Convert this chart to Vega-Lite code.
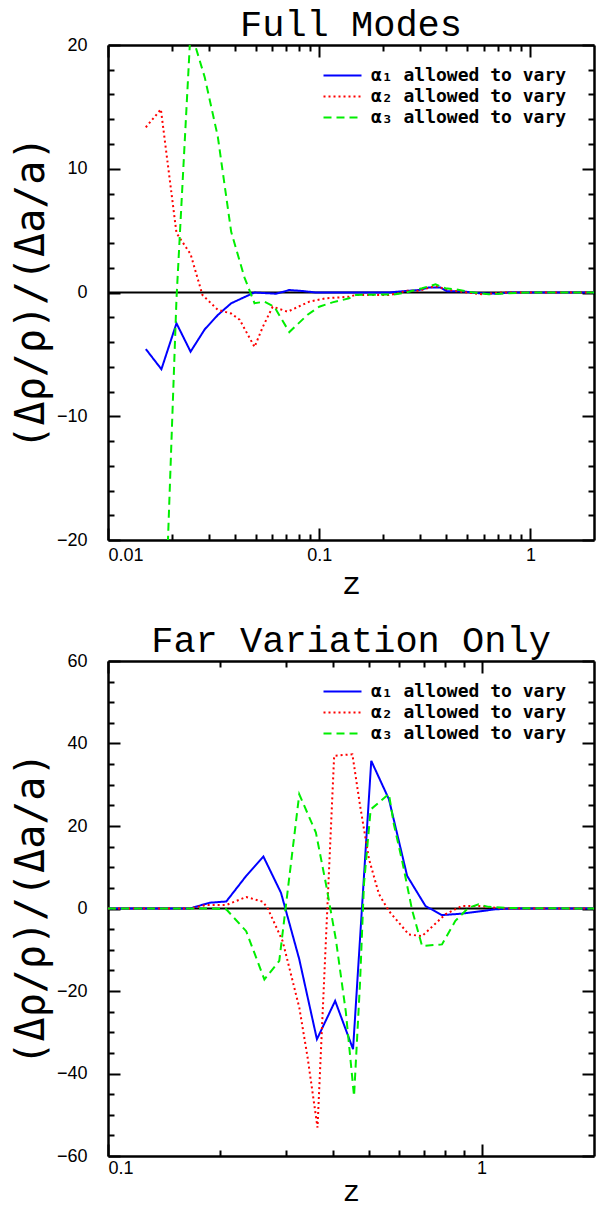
{
  "$schema": "https://vega.github.io/schema/vega-lite/v6.json",
  "background": "white",
  "padding": {"left": 11, "top": 6, "right": 4, "bottom": 0},
  "spacing": 23,
  "config": {
    "view": {"stroke": null},
    "axis": {"grid": false, "domainColor": "black", "domainWidth": 2.5, "tickColor": "black", "tickWidth": 2, "labelFont": "Liberation Sans", "labelFontSize": 18, "labelColor": "black", "titleColor": "black"},
    "legend": {"orient": "none", "legendX": 224, "legendY": 20, "symbolType": "M-2,0H2", "symbolSize": 361, "symbolStrokeWidth": 2, "labelFont": "DejaVu Sans Mono", "labelFontSize": 18, "labelFontWeight": "bold", "labelColor": "black", "labelLimit": 0, "rowPadding": 1, "labelOffset": 18, "padding": 0},
    "title": {"font": "Liberation Mono", "fontSize": 37, "fontWeight": "normal", "color": "black", "offset": -8}
  },
  "datasets": {
    "top": [
      {"s": "α₁ allowed to vary", "z": 0.0151, "v": -4.57},
      {"s": "α₁ allowed to vary", "z": 0.0179, "v": -6.2},
      {"s": "α₁ allowed to vary", "z": 0.0211, "v": -2.49},
      {"s": "α₁ allowed to vary", "z": 0.0246, "v": -4.78},
      {"s": "α₁ allowed to vary", "z": 0.0287, "v": -2.98},
      {"s": "α₁ allowed to vary", "z": 0.0331, "v": -1.82},
      {"s": "α₁ allowed to vary", "z": 0.0383, "v": -0.87},
      {"s": "α₁ allowed to vary", "z": 0.0494, "v": 0.0},
      {"s": "α₁ allowed to vary", "z": 0.0625, "v": -0.1},
      {"s": "α₁ allowed to vary", "z": 0.0722, "v": 0.2},
      {"s": "α₁ allowed to vary", "z": 0.0834, "v": 0.12},
      {"s": "α₁ allowed to vary", "z": 0.0965, "v": 0.0},
      {"s": "α₁ allowed to vary", "z": 0.2139, "v": 0.0},
      {"s": "α₁ allowed to vary", "z": 0.2471, "v": 0.1},
      {"s": "α₁ allowed to vary", "z": 0.2963, "v": 0.2},
      {"s": "α₁ allowed to vary", "z": 0.3303, "v": 0.4},
      {"s": "α₁ allowed to vary", "z": 0.3751, "v": 0.4},
      {"s": "α₁ allowed to vary", "z": 0.403, "v": 0.1},
      {"s": "α₁ allowed to vary", "z": 0.4741, "v": 0.1},
      {"s": "α₁ allowed to vary", "z": 0.5685, "v": -0.06},
      {"s": "α₁ allowed to vary", "z": 0.7066, "v": -0.1},
      {"s": "α₁ allowed to vary", "z": 0.7875, "v": 0.0},
      {"s": "α₁ allowed to vary", "z": 2.0, "v": 0.0},
      {"s": "α₂ allowed to vary", "z": 0.0151, "v": 13.35},
      {"s": "α₂ allowed to vary", "z": 0.0178, "v": 14.8},
      {"s": "α₂ allowed to vary", "z": 0.0211, "v": 4.8},
      {"s": "α₂ allowed to vary", "z": 0.0246, "v": 3.1},
      {"s": "α₂ allowed to vary", "z": 0.028, "v": -0.2},
      {"s": "α₂ allowed to vary", "z": 0.0331, "v": -1.4},
      {"s": "α₂ allowed to vary", "z": 0.0383, "v": -1.7},
      {"s": "α₂ allowed to vary", "z": 0.042, "v": -2.2},
      {"s": "α₂ allowed to vary", "z": 0.0494, "v": -4.4},
      {"s": "α₂ allowed to vary", "z": 0.054, "v": -2.8},
      {"s": "α₂ allowed to vary", "z": 0.0602, "v": -1.15},
      {"s": "α₂ allowed to vary", "z": 0.0709, "v": -1.55},
      {"s": "α₂ allowed to vary", "z": 0.0897, "v": -0.74},
      {"s": "α₂ allowed to vary", "z": 0.1075, "v": -0.47},
      {"s": "α₂ allowed to vary", "z": 0.1385, "v": -0.34},
      {"s": "α₂ allowed to vary", "z": 0.149, "v": -0.2},
      {"s": "α₂ allowed to vary", "z": 0.2139, "v": -0.2},
      {"s": "α₂ allowed to vary", "z": 0.2385, "v": -0.06},
      {"s": "α₂ allowed to vary", "z": 0.2564, "v": 0.15},
      {"s": "α₂ allowed to vary", "z": 0.2963, "v": 0.15},
      {"s": "α₂ allowed to vary", "z": 0.3553, "v": 0.52},
      {"s": "α₂ allowed to vary", "z": 0.4105, "v": 0.2},
      {"s": "α₂ allowed to vary", "z": 0.4741, "v": 0.06},
      {"s": "α₂ allowed to vary", "z": 0.5893, "v": -0.15},
      {"s": "α₂ allowed to vary", "z": 0.7322, "v": 0.0},
      {"s": "α₂ allowed to vary", "z": 2.0, "v": 0.0},
      {"s": "α₃ allowed to vary", "z": 0.0179, "v": -35},
      {"s": "α₃ allowed to vary", "z": 0.0211, "v": -0.5},
      {"s": "α₃ allowed to vary", "z": 0.0246, "v": 21.2},
      {"s": "α₃ allowed to vary", "z": 0.0287, "v": 17.4},
      {"s": "α₃ allowed to vary", "z": 0.0331, "v": 12.6},
      {"s": "α₃ allowed to vary", "z": 0.0383, "v": 4.9},
      {"s": "α₃ allowed to vary", "z": 0.0443, "v": 1.2},
      {"s": "α₃ allowed to vary", "z": 0.0494, "v": -0.87},
      {"s": "α₃ allowed to vary", "z": 0.055, "v": -0.74},
      {"s": "α₃ allowed to vary", "z": 0.0613, "v": -1.15},
      {"s": "α₃ allowed to vary", "z": 0.0722, "v": -3.2},
      {"s": "α₃ allowed to vary", "z": 0.0881, "v": -1.8},
      {"s": "α₃ allowed to vary", "z": 0.1, "v": -1.15},
      {"s": "α₃ allowed to vary", "z": 0.1155, "v": -0.8},
      {"s": "α₃ allowed to vary", "z": 0.1385, "v": -0.47},
      {"s": "α₃ allowed to vary", "z": 0.149, "v": -0.2},
      {"s": "α₃ allowed to vary", "z": 0.23, "v": -0.15},
      {"s": "α₃ allowed to vary", "z": 0.2657, "v": 0.06},
      {"s": "α₃ allowed to vary", "z": 0.3071, "v": 0.34},
      {"s": "α₃ allowed to vary", "z": 0.3553, "v": 0.66},
      {"s": "α₃ allowed to vary", "z": 0.396, "v": 0.34},
      {"s": "α₃ allowed to vary", "z": 0.4414, "v": 0.26},
      {"s": "α₃ allowed to vary", "z": 0.5099, "v": 0.06},
      {"s": "α₃ allowed to vary", "z": 0.6339, "v": -0.15},
      {"s": "α₃ allowed to vary", "z": 0.7875, "v": -0.06},
      {"s": "α₃ allowed to vary", "z": 1.0, "v": 0.0},
      {"s": "α₃ allowed to vary", "z": 2.0, "v": 0.0}
    ],
    "bottom": [
      {"s": "α₁ allowed to vary", "z": 0.1, "v": 0},
      {"s": "α₁ allowed to vary", "z": 0.1655, "v": 0},
      {"s": "α₁ allowed to vary", "z": 0.1871, "v": 1.4},
      {"s": "α₁ allowed to vary", "z": 0.2073, "v": 1.7},
      {"s": "α₁ allowed to vary", "z": 0.2344, "v": 7.9},
      {"s": "α₁ allowed to vary", "z": 0.2606, "v": 12.6},
      {"s": "α₁ allowed to vary", "z": 0.2905, "v": 3.8},
      {"s": "α₁ allowed to vary", "z": 0.3251, "v": -12.3},
      {"s": "α₁ allowed to vary", "z": 0.3625, "v": -31.7},
      {"s": "α₁ allowed to vary", "z": 0.4056, "v": -22.4},
      {"s": "α₁ allowed to vary", "z": 0.4529, "v": -34.1},
      {"s": "α₁ allowed to vary", "z": 0.5067, "v": 35.8},
      {"s": "α₁ allowed to vary", "z": 0.5649, "v": 26.5},
      {"s": "α₁ allowed to vary", "z": 0.6322, "v": 7.9},
      {"s": "α₁ allowed to vary", "z": 0.7078, "v": 0.6},
      {"s": "α₁ allowed to vary", "z": 0.7836, "v": -1.6},
      {"s": "α₁ allowed to vary", "z": 0.886, "v": -1.25},
      {"s": "α₁ allowed to vary", "z": 1.088, "v": -0.2},
      {"s": "α₁ allowed to vary", "z": 1.2, "v": 0},
      {"s": "α₁ allowed to vary", "z": 2.0, "v": 0},
      {"s": "α₂ allowed to vary", "z": 0.1, "v": 0},
      {"s": "α₂ allowed to vary", "z": 0.1655, "v": 0},
      {"s": "α₂ allowed to vary", "z": 0.1833, "v": 0.85},
      {"s": "α₂ allowed to vary", "z": 0.2073, "v": 0.85},
      {"s": "α₂ allowed to vary", "z": 0.2344, "v": 2.8},
      {"s": "α₂ allowed to vary", "z": 0.2595, "v": 1.65},
      {"s": "α₂ allowed to vary", "z": 0.2671, "v": 0.2},
      {"s": "α₂ allowed to vary", "z": 0.2934, "v": -7.9},
      {"s": "α₂ allowed to vary", "z": 0.3251, "v": -24},
      {"s": "α₂ allowed to vary", "z": 0.3421, "v": -36},
      {"s": "α₂ allowed to vary", "z": 0.3638, "v": -53.1},
      {"s": "α₂ allowed to vary", "z": 0.4031, "v": 37},
      {"s": "α₂ allowed to vary", "z": 0.451, "v": 37.4},
      {"s": "α₂ allowed to vary", "z": 0.4728, "v": 25},
      {"s": "α₂ allowed to vary", "z": 0.4996, "v": 12},
      {"s": "α₂ allowed to vary", "z": 0.5312, "v": 3.5},
      {"s": "α₂ allowed to vary", "z": 0.5649, "v": -0.6},
      {"s": "α₂ allowed to vary", "z": 0.6388, "v": -6.3},
      {"s": "α₂ allowed to vary", "z": 0.6931, "v": -6.7},
      {"s": "α₂ allowed to vary", "z": 0.8002, "v": -1.4},
      {"s": "α₂ allowed to vary", "z": 0.886, "v": 0.6},
      {"s": "α₂ allowed to vary", "z": 0.9817, "v": 0.6},
      {"s": "α₂ allowed to vary", "z": 1.133, "v": 0},
      {"s": "α₂ allowed to vary", "z": 2.0, "v": 0},
      {"s": "α₃ allowed to vary", "z": 0.1, "v": 0},
      {"s": "α₃ allowed to vary", "z": 0.1909, "v": 0},
      {"s": "α₃ allowed to vary", "z": 0.2073, "v": -0.2},
      {"s": "α₃ allowed to vary", "z": 0.2344, "v": -5.5},
      {"s": "α₃ allowed to vary", "z": 0.2622, "v": -17.2},
      {"s": "α₃ allowed to vary", "z": 0.2874, "v": -12.7},
      {"s": "α₃ allowed to vary", "z": 0.3251, "v": 27.7},
      {"s": "α₃ allowed to vary", "z": 0.3602, "v": 18.4},
      {"s": "α₃ allowed to vary", "z": 0.3831, "v": 6.0},
      {"s": "α₃ allowed to vary", "z": 0.4074, "v": -7.5},
      {"s": "α₃ allowed to vary", "z": 0.4331, "v": -25},
      {"s": "α₃ allowed to vary", "z": 0.4557, "v": -45.5},
      {"s": "α₃ allowed to vary", "z": 0.4728, "v": -18},
      {"s": "α₃ allowed to vary", "z": 0.4845, "v": 6},
      {"s": "α₃ allowed to vary", "z": 0.5048, "v": 24},
      {"s": "α₃ allowed to vary", "z": 0.5649, "v": 27.8},
      {"s": "α₃ allowed to vary", "z": 0.5825, "v": 20.4},
      {"s": "α₃ allowed to vary", "z": 0.6131, "v": 11.5},
      {"s": "α₃ allowed to vary", "z": 0.6519, "v": -0.4},
      {"s": "α₃ allowed to vary", "z": 0.6931, "v": -9.1},
      {"s": "α₃ allowed to vary", "z": 0.7836, "v": -8.7},
      {"s": "α₃ allowed to vary", "z": 0.8509, "v": -3},
      {"s": "α₃ allowed to vary", "z": 0.9234, "v": 0.2},
      {"s": "α₃ allowed to vary", "z": 0.9817, "v": 1.0},
      {"s": "α₃ allowed to vary", "z": 1.044, "v": 0.4},
      {"s": "α₃ allowed to vary", "z": 1.2, "v": 0.1},
      {"s": "α₃ allowed to vary", "z": 2.0, "v": 0}
    ]
  },
  "resolve": {"scale": {"color": "independent", "strokeDash": "independent"}, "legend": {"color": "independent", "strokeDash": "independent"}},
  "vconcat": [
    {
      "width": 486,
      "height": 495,
      "title": {"text": "Full Modes"},
      "resolve": {"axis": {"x": "independent", "y": "independent"}},
      "layer": [
        {
          "data": {"values": [{}]},
          "mark": {"type": "rule", "color": "black", "strokeWidth": 2},
          "encoding": {
            "x": {"datum": 0.01, "type": "quantitative", "scale": {"type": "log", "domain": [0.01, 2]},
              "axis": {"orient": "top", "values": [0.01,0.02,0.03,0.04,0.05,0.06,0.07,0.08,0.09,0.1,0.2,0.3,0.4,0.5,0.6,0.7,0.8,0.9,1], "labels": false, "title": null,
                "tickSize": {"condition": {"test": "datum.value == 0.01 || datum.value == 0.1 || datum.value == 1", "value": -12}, "value": -6}}},
            "x2": {"datum": 2},
            "y": {"datum": 0, "type": "quantitative", "scale": {"domain": [-20, 20]},
              "axis": {"orient": "right", "values": [-20,-18,-16,-14,-12,-10,-8,-6,-4,-2,0,2,4,6,8,10,12,14,16,18,20], "labels": false, "title": null,
                "tickSize": {"condition": {"test": "datum.value % 10 == 0", "value": -12}, "value": -6}}}
          }
        },
        {
          "data": {"name": "top"},
          "mark": {"type": "line", "clip": true, "strokeWidth": 2},
          "encoding": {
            "x": {"field": "z", "type": "quantitative", "scale": {"type": "log", "domain": [0.01, 2]},
              "axis": {"orient": "bottom", "values": [0.01,0.02,0.03,0.04,0.05,0.06,0.07,0.08,0.09,0.1,0.2,0.3,0.4,0.5,0.6,0.7,0.8,0.9,1],
                "labelExpr": "(datum.value == 0.01 || datum.value == 0.1 || datum.value == 1) ? format(datum.value, '~g') : ''",
                "tickSize": {"condition": {"test": "datum.value == 0.01 || datum.value == 0.1 || datum.value == 1", "value": -12}, "value": -6},
                "labelPadding": 18, "title": "z", "titleFont": "Liberation Mono", "titleFontSize": 32, "titleFontWeight": "normal", "titlePadding": 4}},
            "y": {"field": "v", "type": "quantitative", "scale": {"domain": [-20, 20]},
              "axis": {"orient": "left", "values": [-20,-18,-16,-14,-12,-10,-8,-6,-4,-2,0,2,4,6,8,10,12,14,16,18,20],
                "labelExpr": "datum.value % 10 == 0 ? datum.label : ''",
                "tickSize": {"condition": {"test": "datum.value % 10 == 0", "value": -12}, "value": -6},
                "labelPadding": 33, "title": "(Δρ/ρ)/(Δa/a)", "titleFont": "DejaVu Sans Mono", "titleFontSize": 40, "titleFontWeight": "normal", "titlePadding": 5}},
            "color": {"field": "s", "type": "nominal", "scale": {"domain": ["α₁ allowed to vary", "α₂ allowed to vary", "α₃ allowed to vary"], "range": ["#0000ff", "#ff0000", "#00ee00"]}, "legend": {"title": null}},
            "strokeDash": {"field": "s", "type": "nominal", "scale": {"domain": ["α₁ allowed to vary", "α₂ allowed to vary", "α₃ allowed to vary"], "range": [[1, 0], [2, 3], [8, 5]]}, "legend": {"title": null}}
          }
        }
      ]
    },
    {
      "width": 486,
      "height": 495,
      "title": {"text": "Far Variation Only"},
      "resolve": {"axis": {"x": "independent", "y": "independent"}},
      "layer": [
        {
          "data": {"values": [{}]},
          "mark": {"type": "rule", "color": "black", "strokeWidth": 2},
          "encoding": {
            "x": {"datum": 0.1, "type": "quantitative", "scale": {"type": "log", "domain": [0.1, 2]},
              "axis": {"orient": "top", "values": [0.1,0.2,0.3,0.4,0.5,0.6,0.7,0.8,0.9,1], "labels": false, "title": null,
                "tickSize": {"condition": {"test": "datum.value == 0.1 || datum.value == 1", "value": -12}, "value": -6}}},
            "x2": {"datum": 2},
            "y": {"datum": 0, "type": "quantitative", "scale": {"domain": [-60, 60]},
              "axis": {"orient": "right", "values": [-60,-55,-50,-45,-40,-35,-30,-25,-20,-15,-10,-5,0,5,10,15,20,25,30,35,40,45,50,55,60], "labels": false, "title": null,
                "tickSize": {"condition": {"test": "datum.value % 20 == 0", "value": -12}, "value": -6}}}
          }
        },
        {
          "data": {"name": "bottom"},
          "mark": {"type": "line", "clip": true, "strokeWidth": 2},
          "encoding": {
            "x": {"field": "z", "type": "quantitative", "scale": {"type": "log", "domain": [0.1, 2]},
              "axis": {"orient": "bottom", "values": [0.1,0.2,0.3,0.4,0.5,0.6,0.7,0.8,0.9,1],
                "labelExpr": "(datum.value == 0.1 || datum.value == 1) ? format(datum.value, '~g') : ''",
                "tickSize": {"condition": {"test": "datum.value == 0.1 || datum.value == 1", "value": -12}, "value": -6},
                "labelPadding": 15, "title": "z", "titleFont": "Liberation Mono", "titleFontSize": 29, "titleFontWeight": "normal", "titlePadding": 0}},
            "y": {"field": "v", "type": "quantitative", "scale": {"domain": [-60, 60]},
              "axis": {"orient": "left", "values": [-60,-55,-50,-45,-40,-35,-30,-25,-20,-15,-10,-5,0,5,10,15,20,25,30,35,40,45,50,55,60],
                "labelExpr": "datum.value % 20 == 0 ? datum.label : ''",
                "tickSize": {"condition": {"test": "datum.value % 20 == 0", "value": -12}, "value": -6},
                "labelPadding": 33, "title": "(Δρ/ρ)/(Δa/a)", "titleFont": "DejaVu Sans Mono", "titleFontSize": 40, "titleFontWeight": "normal", "titlePadding": 5}},
            "color": {"field": "s", "type": "nominal", "scale": {"domain": ["α₁ allowed to vary", "α₂ allowed to vary", "α₃ allowed to vary"], "range": ["#0000ff", "#ff0000", "#00ee00"]}, "legend": {"title": null}},
            "strokeDash": {"field": "s", "type": "nominal", "scale": {"domain": ["α₁ allowed to vary", "α₂ allowed to vary", "α₃ allowed to vary"], "range": [[1, 0], [2, 3], [8, 5]]}, "legend": {"title": null}}
          }
        }
      ]
    }
  ]
}
